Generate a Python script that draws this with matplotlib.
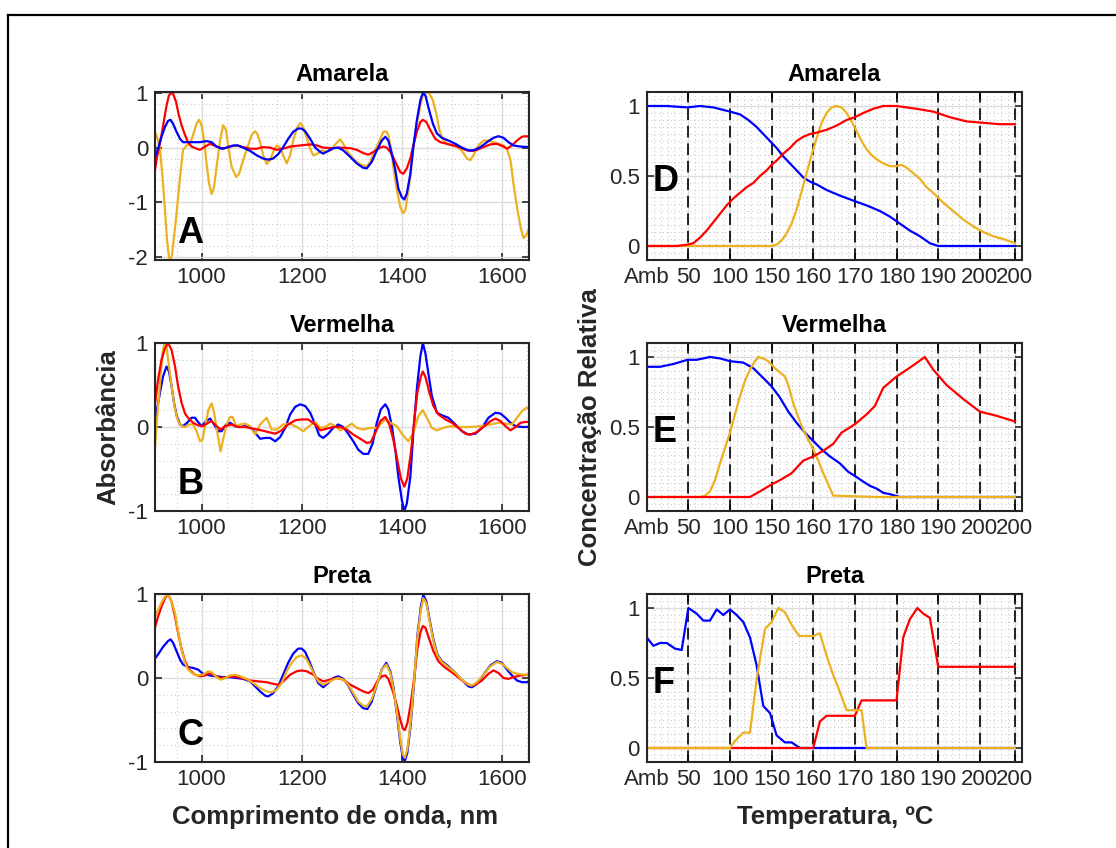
import matplotlib
matplotlib.use("Agg")
import matplotlib.pyplot as plt
from matplotlib.lines import Line2D
from matplotlib.ticker import MultipleLocator, FixedLocator

plt.rcParams['font.family'] = ['Liberation Sans', 'DejaVu Sans']
plt.rcParams['axes.unicode_minus'] = False

BLUE = '#0000FF'
RED = '#FF0000'
YEL = '#EDB120'

# ---------------- Spectra (left column) ----------------
# Panel A - Amarela
a_yel_wl = [907, 911, 917, 922, 927, 931, 935, 938, 941, 945,
            950, 957, 963, 970, 977, 983, 990, 995, 1000, 1005,
            1010, 1015, 1020, 1025, 1030, 1037, 1043, 1049, 1053, 1060,
            1069, 1075, 1083, 1093, 1100, 1107, 1111, 1117, 1123, 1130,
            1137, 1143, 1150, 1157, 1163, 1170, 1177, 1183, 1190, 1197,
            1203, 1210, 1217, 1223, 1230, 1240, 1250, 1260, 1267, 1277,
            1283, 1290, 1300, 1310, 1320, 1330, 1337, 1343, 1350, 1357,
            1363, 1369, 1373, 1378, 1383, 1390, 1397, 1402, 1407, 1411,
            1417, 1423, 1430, 1437, 1442, 1449, 1455, 1462, 1469, 1475,
            1482, 1490, 1500, 1510, 1520, 1530, 1537, 1543, 1553, 1563,
            1573, 1583, 1593, 1603, 1610, 1617, 1623, 1630, 1637, 1643,
            1649, 1654]
a_yel = [0.29, 0.20, -0.02, -0.54, -1.15, -1.70, -2.01, -2.06, -1.97, -1.63,
         -1.21, -0.54, -0.04, 0.04, 0.07, 0.23, 0.44, 0.51, 0.41, 0.13,
         -0.29, -0.66, -0.85, -0.72, -0.35, 0.13, 0.41, 0.32, 0.04, -0.35,
         -0.54, -0.48, -0.23, 0.04, 0.23, 0.30, 0.26, 0.10, -0.14, -0.30,
         -0.23, -0.08, 0.04, 0.00, -0.14, -0.29, -0.14, 0.13, 0.35, 0.45,
         0.38, 0.18, -0.02, -0.14, -0.12, -0.05, -0.08, -0.04, 0.06, 0.15,
         0.07, -0.05, -0.17, -0.26, -0.32, -0.34, -0.26, -0.11, 0.02, 0.16,
         0.29, 0.30, 0.23, 0.01, -0.35, -0.78, -1.09, -1.20, -1.15, -0.90,
         -0.54, 0.01, 0.44, 0.77, 0.96, 1.02, 0.99, 0.87, 0.62, 0.32,
         0.15, 0.07, 0.04, 0.02, -0.06, -0.20, -0.23, -0.14, 0.04, 0.13,
         0.13, 0.10, 0.07, 0.04, -0.02, -0.23, -0.66, -1.09, -1.45, -1.66,
         -1.60, -1.48]
a_red_wl = [907, 911, 915, 920, 925, 930, 935, 939, 943, 949,
            954, 960, 967, 973, 980, 990, 997, 1007, 1017, 1030,
            1043, 1057, 1070, 1083, 1097, 1110, 1123, 1137, 1150, 1163,
            1177, 1197, 1217, 1230, 1243, 1260, 1277, 1297, 1310, 1323,
            1333, 1343, 1357, 1363, 1370, 1377, 1383, 1390, 1397, 1403,
            1410, 1417, 1423, 1430, 1437, 1442, 1449, 1457, 1467, 1477,
            1490, 1503, 1517, 1530, 1540, 1550, 1563, 1577, 1590, 1603,
            1610, 1620, 1630, 1640, 1647, 1654]
a_red = [-0.41, -0.17, 0.00, 0.23, 0.50, 0.77, 0.96, 1.00, 0.99, 0.84,
         0.62, 0.41, 0.23, 0.10, 0.02, -0.02, -0.04, 0.02, 0.07, 0.02,
         -0.02, 0.02, 0.04, 0.01, -0.02, -0.02, 0.01, 0.00, -0.04, -0.02,
         0.02, 0.04, 0.06, 0.04, 0.00, -0.01, 0.00, -0.01, -0.04, -0.10,
         -0.13, -0.08, 0.00, 0.02, 0.00, -0.08, -0.18, -0.32, -0.45, -0.48,
         -0.38, -0.20, 0.04, 0.29, 0.47, 0.51, 0.47, 0.32, 0.16, 0.10,
         0.07, 0.04, 0.00, -0.05, -0.06, -0.04, 0.01, 0.06, 0.07, 0.02,
         -0.02, 0.04, 0.13, 0.20, 0.21, 0.20]
a_blue_wl = [907, 913, 920, 927, 933, 938, 943, 950, 957, 963,
             973, 983, 997, 1010, 1020, 1030, 1040, 1050, 1063, 1073,
             1083, 1097, 1110, 1123, 1133, 1143, 1153, 1163, 1173, 1183,
             1193, 1200, 1207, 1217, 1227, 1237, 1243, 1253, 1263, 1273,
             1283, 1297, 1310, 1323, 1330, 1340, 1350, 1360, 1367, 1373,
             1380, 1387, 1393, 1400, 1405, 1410, 1417, 1423, 1430, 1437,
             1442, 1447, 1453, 1462, 1470, 1480, 1493, 1507, 1520, 1533,
             1543, 1557, 1570, 1583, 1593, 1603, 1613, 1623, 1637, 1654]
a_blue = [-0.17, -0.02, 0.20, 0.38, 0.49, 0.51, 0.44, 0.29, 0.16, 0.10,
          0.10, 0.10, 0.10, 0.12, 0.10, 0.02, -0.02, 0.00, 0.04, 0.04,
          0.00, -0.06, -0.14, -0.20, -0.22, -0.20, -0.12, 0.01, 0.16, 0.29,
          0.35, 0.35, 0.30, 0.16, 0.00, -0.08, -0.11, -0.06, -0.01, 0.00,
          -0.05, -0.17, -0.29, -0.37, -0.38, -0.26, -0.05, 0.13, 0.20, 0.13,
          -0.11, -0.41, -0.75, -0.91, -0.95, -0.84, -0.48, 0.01, 0.50, 0.87,
          1.00, 0.96, 0.74, 0.44, 0.26, 0.18, 0.13, 0.07, 0.00, -0.05,
          -0.05, 0.01, 0.10, 0.18, 0.21, 0.18, 0.10, 0.04, 0.02, 0.01]

# Panel B - Vermelha
b_blue_wl = [907, 911, 917, 923, 930, 935, 940, 945, 950, 957,
             963, 971, 980, 987, 993, 1000, 1009, 1017, 1025, 1033,
             1040, 1049, 1057, 1067, 1077, 1087, 1097, 1107, 1117, 1127,
             1137, 1147, 1157, 1167, 1177, 1187, 1197, 1207, 1217, 1227,
             1235, 1243, 1253, 1263, 1273, 1283, 1293, 1303, 1313, 1323,
             1333, 1342, 1350, 1358, 1367, 1373, 1380, 1387, 1393, 1400,
             1405, 1410, 1417, 1423, 1430, 1437, 1442, 1447, 1453, 1460,
             1470, 1480, 1493, 1507, 1520, 1533, 1547, 1560, 1573, 1587,
             1597, 1607, 1617, 1627, 1640, 1654]
b_blue = [0.00, 0.21, 0.41, 0.60, 0.72, 0.66, 0.49, 0.29, 0.14, 0.03,
          0.01, 0.05, 0.11, 0.11, 0.06, 0.01, 0.07, 0.10, 0.03, -0.05,
          -0.05, 0.03, 0.05, 0.01, 0.00, 0.01, 0.00, -0.07, -0.14, -0.13,
          -0.13, -0.17, -0.12, -0.01, 0.15, 0.24, 0.27, 0.25, 0.17, 0.03,
          -0.10, -0.13, -0.08, -0.01, 0.03, 0.00, -0.08, -0.17, -0.27, -0.32,
          -0.32, -0.19, 0.05, 0.21, 0.27, 0.21, 0.01, -0.27, -0.59, -0.87,
          -1.00, -0.91, -0.59, -0.07, 0.45, 0.84, 1.00, 0.88, 0.64, 0.37,
          0.17, 0.14, 0.11, 0.03, -0.05, -0.09, -0.08, -0.01, 0.11, 0.17,
          0.16, 0.11, 0.05, 0.01, 0.00, 0.00]
b_red_wl = [907, 913, 920, 927, 933, 940, 947, 953, 960, 967,
            973, 983, 993, 1003, 1013, 1020, 1030, 1038, 1047, 1060,
            1073, 1087, 1103, 1120, 1133, 1147, 1160, 1173, 1187, 1200,
            1213, 1227, 1237, 1250, 1263, 1277, 1290, 1303, 1317, 1330,
            1338, 1347, 1357, 1367, 1375, 1383, 1391, 1398, 1405, 1411,
            1418, 1425, 1431, 1438, 1442, 1447, 1455, 1463, 1473, 1487,
            1500, 1513, 1527, 1537, 1550, 1563, 1577, 1587, 1597, 1607,
            1617, 1627, 1637, 1647, 1654]
b_red = [0.27, 0.56, 0.80, 0.94, 1.00, 0.92, 0.72, 0.49, 0.29, 0.16,
         0.11, 0.05, 0.02, 0.01, 0.05, 0.07, 0.01, -0.03, 0.01, 0.03,
         0.00, 0.00, -0.02, -0.04, -0.06, -0.08, -0.04, 0.03, 0.08, 0.09,
         0.09, 0.03, -0.04, -0.02, 0.00, 0.00, -0.03, -0.09, -0.14, -0.19,
         -0.18, -0.07, 0.07, 0.12, 0.03, -0.15, -0.39, -0.61, -0.71, -0.61,
         -0.31, 0.09, 0.41, 0.60, 0.66, 0.60, 0.41, 0.25, 0.15, 0.09,
         0.05, -0.01, -0.08, -0.09, -0.06, 0.00, 0.07, 0.10, 0.07, 0.01,
         -0.04, 0.00, 0.05, 0.06, 0.06]
b_yel_wl = [907, 911, 917, 922, 926, 930, 935, 941, 947, 953,
            960, 967, 975, 983, 990, 997, 1002, 1007, 1014, 1020,
            1025, 1031, 1038, 1043, 1050, 1057, 1062, 1069, 1077, 1087,
            1097, 1107, 1117, 1130, 1140, 1150, 1163, 1177, 1190, 1203,
            1217, 1227, 1237, 1247, 1257, 1267, 1277, 1290, 1300, 1310,
            1323, 1337, 1350, 1360, 1367, 1377, 1390, 1400, 1413, 1423,
            1433, 1442, 1450, 1460, 1470, 1483, 1497, 1517, 1537, 1557,
            1577, 1593, 1607, 1620, 1630, 1640, 1649, 1654]
b_yel = [-0.25, 0.09, 0.52, 0.88, 1.00, 0.96, 0.72, 0.45, 0.21, 0.07,
         0.01, 0.00, 0.03, 0.03, -0.05, -0.17, -0.15, 0.01, 0.21, 0.28,
         0.17, -0.05, -0.29, -0.15, 0.03, 0.12, 0.12, 0.01, 0.03, 0.04,
         0.01, -0.09, 0.03, 0.11, -0.03, -0.03, 0.03, 0.04, 0.00, -0.05,
         0.02, 0.06, -0.01, 0.00, 0.04, 0.01, -0.04, 0.00, 0.04, -0.01,
         -0.03, -0.01, -0.01, 0.05, 0.09, 0.05, 0.01, -0.08, -0.17, -0.07,
         0.13, 0.20, 0.11, -0.01, -0.04, -0.01, 0.01, 0.00, 0.00, 0.01,
         0.03, 0.05, 0.04, 0.03, 0.11, 0.19, 0.23, 0.21]

# Panel C - Preta
c_blue_wl = [907, 913, 923, 933, 938, 943, 950, 957, 963, 973,
             983, 993, 1003, 1017, 1030, 1043, 1057, 1070, 1083, 1097,
             1107, 1117, 1127, 1133, 1143, 1153, 1163, 1173, 1183, 1193,
             1200, 1207, 1215, 1223, 1233, 1243, 1253, 1263, 1273, 1283,
             1293, 1303, 1313, 1323, 1331, 1340, 1350, 1360, 1369, 1377,
             1383, 1390, 1397, 1402, 1406, 1411, 1418, 1425, 1431, 1438,
             1443, 1449, 1455, 1463, 1471, 1480, 1493, 1507, 1520, 1533,
             1540, 1550, 1563, 1577, 1590, 1600, 1610, 1620, 1630, 1640,
             1650, 1654]
c_blue = [0.23, 0.28, 0.37, 0.44, 0.46, 0.42, 0.32, 0.22, 0.16, 0.13,
          0.12, 0.10, 0.05, 0.03, 0.02, 0.01, 0.01, 0.00, -0.01, -0.04,
          -0.10, -0.16, -0.21, -0.22, -0.18, -0.10, 0.04, 0.18, 0.29, 0.35,
          0.35, 0.31, 0.20, 0.08, -0.06, -0.11, -0.06, 0.00, 0.02, -0.01,
          -0.09, -0.20, -0.30, -0.36, -0.37, -0.28, -0.08, 0.10, 0.18, 0.08,
          -0.10, -0.42, -0.77, -0.95, -0.99, -0.89, -0.54, -0.02, 0.50, 0.85,
          0.99, 0.91, 0.71, 0.46, 0.28, 0.20, 0.14, 0.06, -0.02, -0.10,
          -0.11, -0.07, 0.04, 0.15, 0.20, 0.18, 0.10, 0.03, -0.03, -0.05,
          -0.05, -0.04]
c_red_wl = [907, 913, 920, 927, 933, 940, 947, 953, 960, 967,
            975, 987, 997, 1007, 1017, 1027, 1037, 1050, 1063, 1080,
            1097, 1113, 1130, 1143, 1153, 1163, 1177, 1190, 1200, 1210,
            1223, 1233, 1243, 1257, 1270, 1283, 1297, 1310, 1323, 1333,
            1342, 1351, 1360, 1367, 1373, 1381, 1389, 1397, 1402, 1406,
            1411, 1418, 1425, 1431, 1437, 1442, 1447, 1455, 1463, 1473,
            1483, 1497, 1510, 1523, 1537, 1547, 1560, 1573, 1583, 1593,
            1603, 1613, 1623, 1637, 1654]
c_red = [0.60, 0.73, 0.85, 0.95, 1.00, 0.91, 0.73, 0.54, 0.35, 0.20,
         0.10, 0.04, 0.02, 0.03, 0.06, 0.03, 0.00, 0.01, 0.02, 0.00,
         -0.03, -0.04, -0.05, -0.07, -0.08, -0.04, 0.04, 0.08, 0.09, 0.08,
         0.04, -0.01, -0.04, -0.02, 0.00, -0.02, -0.08, -0.12, -0.16, -0.18,
         -0.14, -0.04, 0.02, 0.03, -0.01, -0.14, -0.30, -0.50, -0.60, -0.62,
         -0.54, -0.30, 0.02, 0.34, 0.54, 0.62, 0.60, 0.46, 0.32, 0.20,
         0.14, 0.08, 0.02, -0.04, -0.09, -0.08, -0.03, 0.05, 0.09, 0.06,
         0.00, -0.01, 0.01, 0.03, 0.04]
c_yel_wl = [907, 913, 920, 927, 933, 940, 947, 953, 960, 967,
            973, 983, 993, 1003, 1013, 1020, 1030, 1038, 1047, 1057,
            1067, 1077, 1090, 1103, 1117, 1130, 1140, 1150, 1160, 1170,
            1180, 1190, 1200, 1209, 1217, 1227, 1235, 1243, 1253, 1263,
            1273, 1283, 1293, 1303, 1313, 1323, 1330, 1340, 1350, 1360,
            1369, 1377, 1383, 1390, 1397, 1402, 1406, 1411, 1418, 1425,
            1431, 1438, 1443, 1449, 1455, 1463, 1471, 1480, 1493, 1507,
            1520, 1533, 1540, 1550, 1563, 1577, 1590, 1600, 1610, 1620,
            1630, 1643, 1654]
c_yel = [0.73, 0.81, 0.90, 0.97, 1.00, 0.91, 0.77, 0.56, 0.34, 0.18,
         0.10, 0.05, 0.03, 0.04, 0.08, 0.07, 0.01, -0.02, 0.00, 0.03,
         0.04, 0.02, -0.01, -0.06, -0.12, -0.16, -0.17, -0.14, -0.06, 0.08,
         0.18, 0.25, 0.27, 0.23, 0.14, 0.02, -0.05, -0.08, -0.05, -0.02,
         0.00, -0.02, -0.08, -0.18, -0.28, -0.33, -0.34, -0.25, -0.08, 0.10,
         0.16, 0.06, -0.12, -0.40, -0.73, -0.91, -0.95, -0.85, -0.50, 0.00,
         0.48, 0.81, 0.95, 0.89, 0.69, 0.44, 0.27, 0.19, 0.13, 0.06,
         -0.02, -0.08, -0.09, -0.05, 0.04, 0.14, 0.19, 0.17, 0.12, 0.07,
         0.05, 0.04, 0.04]

# ---------------- Concentration profiles (right column) ----------------
temp_labels = ['Amb', '50', '100', '150', '160', '170', '180', '190', '200', '200']
temp_pos = [0, 1, 2, 3, 4, 5, 6, 7, 8, 8.84]

d_blue_x = [0, 0.48, 0.98, 1.28, 1.6, 2.0, 2.24, 2.44, 2.64, 2.8,
            2.96, 3.12, 3.28, 3.44, 3.6, 3.76, 3.92, 4.08, 4.32, 4.64,
            5.0, 5.28, 5.6, 5.84, 6.08, 6.32, 6.56, 6.8, 7.0, 7.28, 8.84]
d_blue = [1.00, 1.00, 0.99, 1.00, 0.99, 0.96, 0.94, 0.90, 0.85, 0.80,
          0.75, 0.70, 0.64, 0.59, 0.54, 0.49, 0.46, 0.44, 0.40, 0.36,
          0.32, 0.29, 0.25, 0.21, 0.16, 0.11, 0.07, 0.02, 0.00, 0.00, 0.00]
d_red_x = [0, 0.72, 0.98, 1.12, 1.28, 1.44, 1.6, 1.76, 1.92, 2.08,
           2.24, 2.4, 2.56, 2.72, 2.88, 3.0, 3.12, 3.28, 3.44, 3.6,
           3.76, 3.92, 4.08, 4.32, 4.56, 4.8, 5.0, 5.2, 5.44, 5.68,
           6.0, 6.24, 6.48, 6.88, 7.28, 7.68, 8.08, 8.48, 8.84]
d_red = [0.00, 0.00, 0.01, 0.02, 0.06, 0.11, 0.17, 0.23, 0.29, 0.34,
         0.38, 0.42, 0.45, 0.50, 0.54, 0.58, 0.61, 0.66, 0.70, 0.75,
         0.78, 0.80, 0.81, 0.83, 0.86, 0.90, 0.92, 0.95, 0.98, 1.00,
         1.00, 0.99, 0.98, 0.96, 0.92, 0.89, 0.88, 0.87, 0.87]
d_yel_x = [0, 3.0, 3.12, 3.24, 3.36, 3.48, 3.6, 3.72, 3.84, 3.96,
           4.08, 4.2, 4.32, 4.44, 4.56, 4.68, 4.8, 4.92, 5.04, 5.16,
           5.28, 5.4, 5.52, 5.68, 5.84, 6.0, 6.12, 6.24, 6.4, 6.56,
           6.72, 6.88, 7.12, 7.36, 7.6, 7.84, 8.08, 8.32, 8.56, 8.84]
d_yel = [0.00, 0.00, 0.01, 0.04, 0.09, 0.16, 0.26, 0.39, 0.52, 0.65,
         0.77, 0.88, 0.95, 0.99, 1.00, 0.99, 0.95, 0.89, 0.82, 0.75,
         0.69, 0.65, 0.62, 0.59, 0.57, 0.57, 0.58, 0.56, 0.52, 0.48,
         0.42, 0.38, 0.31, 0.25, 0.19, 0.14, 0.10, 0.07, 0.05, 0.02]

e_blue_x = [0, 0.32, 0.64, 0.98, 1.2, 1.52, 1.76, 2.0, 2.32, 2.56,
            2.8, 3.0, 3.2, 3.4, 3.6, 3.8, 4.0, 4.2, 4.4, 4.64,
            4.84, 5.0, 5.2, 5.36, 5.52, 5.68, 5.84, 6.08, 8.84]
e_blue = [0.93, 0.93, 0.95, 0.98, 0.98, 1.00, 0.99, 0.97, 0.96, 0.92,
          0.85, 0.79, 0.71, 0.61, 0.53, 0.46, 0.40, 0.34, 0.29, 0.24,
          0.18, 0.15, 0.11, 0.08, 0.06, 0.03, 0.02, 0.00, 0.00]
e_red_x = [0, 2.48, 2.72, 3, 3.2, 3.48, 3.76, 4, 4.24, 4.48, 4.68, 5, 5.28, 5.48, 5.68, 6, 6.4, 6.68, 6.88, 7.2, 7.6, 8, 8.4, 8.84]
e_red = [0.00, 0.00, 0.04, 0.09, 0.12, 0.17, 0.26, 0.29, 0.33, 0.38, 0.46, 0.52, 0.59, 0.65, 0.78, 0.86, 0.94, 1.00, 0.91, 0.80, 0.70, 0.61, 0.58, 0.54]
e_yel_x = [0, 1.28, 1.4, 1.52, 1.64, 1.76, 1.88, 2.0, 2.12, 2.24,
           2.36, 2.48, 2.6, 2.68, 2.8, 2.92, 3.08, 3.2, 3.32, 3.4,
           3.52, 3.64, 3.76, 3.88, 4.0, 4.12, 4.24, 4.36, 4.48, 5.0,
           5.52, 8.84]
e_yel = [0.00, 0.00, 0.01, 0.04, 0.12, 0.24, 0.35, 0.46, 0.59, 0.72,
         0.83, 0.91, 0.97, 1.00, 0.99, 0.97, 0.92, 0.89, 0.86, 0.80,
         0.67, 0.57, 0.48, 0.41, 0.34, 0.26, 0.17, 0.09, 0.01, 0.005,
         0.00, 0.00]

f_blue_x = [0, 0.16, 0.32, 0.48, 0.68, 0.84, 1, 1.2, 1.36, 1.52, 1.68, 1.84, 2, 2.16, 2.32, 2.48, 2.64, 2.8, 2.96, 3.12, 3.32, 3.48, 3.68, 4, 8.84]
f_blue = [0.79, 0.73, 0.75, 0.75, 0.71, 0.70, 1.00, 0.96, 0.91, 0.91, 0.99, 0.95, 0.99, 0.95, 0.90, 0.79, 0.59, 0.30, 0.25, 0.09, 0.04, 0.04, 0.00, 0.00, 0.00]
f_red_x = [0, 4, 4.16, 4.32, 4.48, 5, 5.16, 5.52, 6, 6.16, 6.32, 6.5, 6.64, 6.8, 7, 7.28, 8.84]
f_red = [0.00, 0.00, 0.19, 0.23, 0.23, 0.23, 0.34, 0.34, 0.34, 0.79, 0.92, 1.00, 0.96, 0.93, 0.58, 0.58, 0.58]
f_yel_x = [0, 2, 2.12, 2.32, 2.48, 2.64, 2.84, 3, 3.16, 3.32, 3.48, 3.66, 4, 4.16, 4.32, 4.48, 4.64, 4.8, 5, 5.16, 5.28, 8.84]
f_yel = [0.00, 0.00, 0.05, 0.11, 0.11, 0.49, 0.85, 0.90, 1.00, 0.97, 0.88, 0.80, 0.80, 0.82, 0.66, 0.52, 0.40, 0.27, 0.27, 0.27, 0.00, 0.00]

W, H = 1116, 848
fig = plt.figure(figsize=(W / 100, H / 100), dpi=100)

def ax_at(left, top, right, bottom):
    return fig.add_axes([left / W, 1 - bottom / H, (right - left) / W, (bottom - top) / H])

LW = 1.6
TICK_FS = 16
TITLE_FS = 17
LETTER_FS = 26
LABEL_FS = 18.5
TXT = '#262626'

def style(ax):
    for s in ax.spines.values():
        s.set_linewidth(1.5)
        s.set_color(TXT)
        s.set_zorder(10)
    ax.tick_params(which='both', direction='in', top=True, right=True,
                   labelsize=TICK_FS, colors=TXT, length=5, width=1.2, pad=5)
    ax.tick_params(which='minor', length=0)
    ax.grid(True, which='major', color='#dcdcdc', lw=1.0)
    ax.grid(True, which='minor', color='#c4c4c4', lw=0.7, linestyle=(0, (1, 3)))
    ax.set_axisbelow(True)

rows = [(92, 260), (343, 511), (594, 762)]

spec = [
    ('Amarela', 'A', (-2.06, 1.02), [-2, -1, 0, 1],
     [(a_yel_wl, a_yel, YEL), (a_red_wl, a_red, RED), (a_blue_wl, a_blue, BLUE)]),
    ('Vermelha', 'B', (-1, 1), [-1, 0, 1],
     [(b_blue_wl, b_blue, BLUE), (b_yel_wl, b_yel, YEL), (b_red_wl, b_red, RED)]),
    ('Preta', 'C', (-1, 1), [-1, 0, 1],
     [(c_blue_wl, c_blue, BLUE), (c_red_wl, c_red, RED), (c_yel_wl, c_yel, YEL)]),
]
for (top, bot), (title, letter, ylim, yt, series) in zip(rows, spec):
    ax = ax_at(155, top, 529, bot)
    style(ax)
    for x, y, c in series:
        ax.plot(x, y, color=c, lw=LW, solid_joinstyle='round')
    ax.set_xlim(907, 1654)
    ax.set_ylim(*ylim)
    ax.xaxis.set_major_locator(FixedLocator([1000, 1200, 1400, 1600]))
    ax.xaxis.set_minor_locator(MultipleLocator(50))
    ax.yaxis.set_major_locator(FixedLocator(yt))
    ax.yaxis.set_minor_locator(MultipleLocator(0.2))
    ax.set_yticklabels([str(v) for v in yt])
    ax.set_title(title, fontsize=TITLE_FS, fontweight='bold', pad=8, color='black')
    ax.text(0.06, 0.10, letter, transform=ax.transAxes, fontsize=LETTER_FS,
            fontweight='bold', ha='left', va='baseline', zorder=20)

rspec = [
    ('Amarela', 'D', [(d_blue_x, d_blue, BLUE), (d_yel_x, d_yel, YEL), (d_red_x, d_red, RED)]),
    ('Vermelha', 'E', [(e_blue_x, e_blue, BLUE), (e_yel_x, e_yel, YEL), (e_red_x, e_red, RED)]),
    ('Preta', 'F', [(f_blue_x, f_blue, BLUE), (f_red_x, f_red, RED), (f_yel_x, f_yel, YEL)]),
]
for (top, bot), (title, letter, series) in zip(rows, rspec):
    ax = ax_at(646.7, top, 1022.3, bot)
    style(ax)
    for p in temp_pos[1:]:
        ax.axvline(p, color='black', lw=1.2, linestyle=(0, (7, 3.5)), zorder=2)
    for x, y, c in series:
        ax.plot(x, y, color=c, lw=LW, zorder=3, solid_joinstyle='round')
    ax.set_xlim(0, 9.02)
    ax.set_ylim(-0.1, 1.1)
    ax.xaxis.set_major_locator(FixedLocator(temp_pos))
    ax.set_xticklabels(temp_labels)
    ax.xaxis.set_minor_locator(MultipleLocator(1 / 6))
    ax.yaxis.set_major_locator(FixedLocator([0, 0.5, 1]))
    ax.set_yticklabels(['0', '0.5', '1'])
    ax.yaxis.set_minor_locator(MultipleLocator(0.05))
    ax.set_title(title, fontsize=TITLE_FS, fontweight='bold', pad=8, color='black')
    ax.text(0.017, 0.41, letter, transform=ax.transAxes, fontsize=LETTER_FS,
            fontweight='bold', ha='left', va='baseline', zorder=20)

fig.text(108 / W, 1 - 427 / H, 'Absorbância', rotation=90, fontsize=LABEL_FS,
         fontweight='bold', ha='center', va='center', color=TXT)
fig.text(590 / W, 1 - 427 / H, 'Concentração Relativa', rotation=90, fontsize=LABEL_FS,
         fontweight='bold', ha='center', va='center', color=TXT)
fig.text(335 / W, 1 - 817 / H, 'Comprimento de onda, nm', fontsize=LABEL_FS,
         fontweight='bold', ha='center', va='center', color=TXT)
fig.text(835 / W, 1 - 817 / H, 'Temperatura, ºC', fontsize=LABEL_FS,
         fontweight='bold', ha='center', va='center', color=TXT)

# figure frame
fig.add_artist(Line2D([8 / W, 1.01], [1 - 15 / H, 1 - 15 / H], transform=fig.transFigure,
                      color='black', lw=1.6))
fig.add_artist(Line2D([8 / W, 8 / W], [1 - 15 / H, -0.01], transform=fig.transFigure,
                      color='black', lw=1.6))

fig.savefig('out.png', dpi=100)
